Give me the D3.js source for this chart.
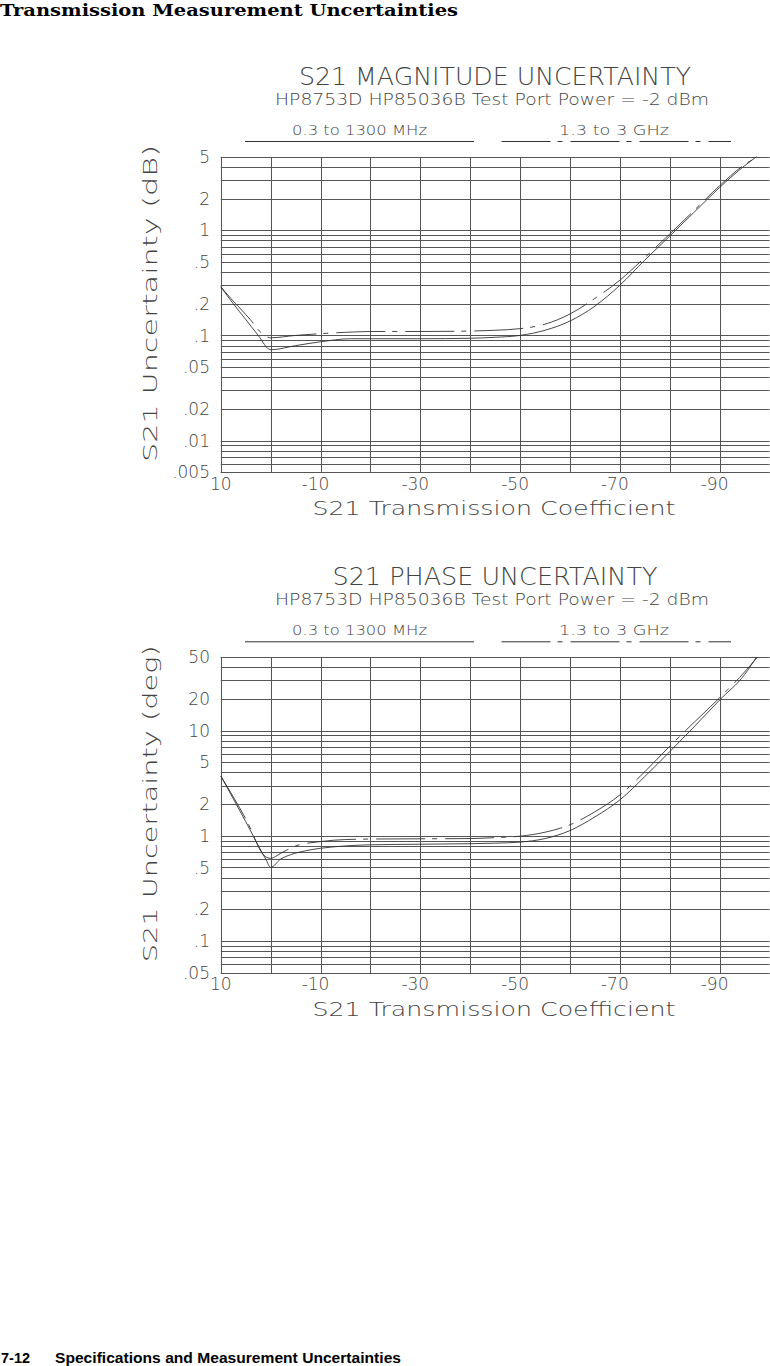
<!DOCTYPE html>
<html><head><meta charset="utf-8">
<script src="https://cdn.jsdelivr.net/npm/d3@7/dist/d3.min.js"></script>
<style>
html,body{margin:0;padding:0;background:#fff;}
svg{display:block;}
.plot{font-family:"DejaVu Sans",sans-serif;font-weight:200;fill:#444;}
</style></head>
<body>
<script>
// ---------- data ----------
const xGridValues = [10, 0, -10, -20, -30, -40, -50, -60, -70, -80, -90, -100];
const xTickValues = [10, -10, -30, -50, -70, -90];
const xTickLabels = ["10", "-10", "-30", "-50", "-70", "-90"];

const magTickValues = [5, 2, 1, 0.5, 0.2, 0.1, 0.05, 0.02, 0.01, 0.005];
const magTickLabels = ["5", "2", "1", ".5", ".2", ".1", ".05", ".02", ".01", ".005"];
const phaseTickValues = [50, 20, 10, 5, 2, 1, 0.5, 0.2, 0.1, 0.05];
const phaseTickLabels = ["50", "20", "10", "5", "2", "1", ".5", ".2", ".1", ".05"];

const legendLabels = ["0.3 to 1300 MHz", "1.3 to 3 GHz"];

// S21 magnitude uncertainty (dB) vs transmission coefficient (dB)
const magLow = [[10,0.29],[7.5,0.2],[5,0.142],[2.5,0.1],[0,0.073],[-5,0.080],[-10,0.087],[-16,0.093],
  [-20,0.093],[-30,0.093],[-40,0.094],[-45,0.096],[-50,0.100],[-55,0.112],[-60,0.137],[-65,0.19],
  [-70,0.30],[-75,0.52],[-80,0.88],[-85,1.5],[-90,2.55],[-95,4.1],[-97.4,5.0]];
const magHigh = [[10,0.29],[8,0.225],[6,0.178],[4,0.14],[2,0.107],[0,0.095],[-5,0.1],[-10,0.104],
  [-15,0.107],[-20,0.109],[-30,0.109],[-40,0.110],[-45,0.112],[-50,0.116],[-55,0.128],[-60,0.16],
  [-65,0.225],[-70,0.335],[-75,0.55],[-80,0.92],[-85,1.56],[-90,2.65],[-95,4.2],[-97.7,5.0]];

// S21 phase uncertainty (deg)
const phaseLow = [[10,3.7],[5,1.36],[1,0.6],[0,0.5],[-2,0.6],[-4,0.66],[-7,0.72],[-10,0.76],
  [-15,0.8],[-20,0.82],[-30,0.83],[-40,0.84],[-45,0.85],[-50,0.87],[-55,0.94],[-60,1.12],
  [-65,1.51],[-70,2.19],[-75,3.65],[-80,6.3],[-85,11],[-90,19.5],[-95,34],[-97.4,50]];
const phaseHigh = [[10,3.7],[5,1.45],[1,0.63],[0,0.61],[-2,0.68],[-5,0.8],[-10,0.88],[-15,0.92],
  [-20,0.93],[-30,0.935],[-40,0.94],[-45,0.96],[-50,0.99],[-55,1.08],[-60,1.27],[-65,1.69],
  [-70,2.44],[-75,4.06],[-80,7.1],[-85,12.1],[-90,20.5],[-95,36],[-97.6,50]];

const charts = [
  {title:"S21 MAGNITUDE UNCERTAINTY", titleLen:392, yTitle:"S21 Uncertainty (dB)",
   domain:[0.005,5], ticks:magTickValues, tickLabels:magTickLabels, low:magLow, high:magHigh, offset:0},
  {title:"S21 PHASE UNCERTAINTY", titleLen:325, yTitle:"S21 Uncertainty (deg)",
   domain:[0.05,50], ticks:phaseTickValues, tickLabels:phaseTickLabels, low:phaseLow, high:phaseHigh, offset:500.3}
];

// ---------- drawing ----------
const W = 770, H = 1366;
const svg = d3.select("body").append("svg").attr("width", W).attr("height", H);

svg.append("text").attr("x", 0).attr("y", 16)
  .attr("font-family", "'DejaVu Serif', serif").attr("font-weight", "bold")
  .attr("font-size", 17.5).attr("fill", "#000")
  .attr("textLength", 458).attr("lengthAdjust", "spacingAndGlyphs")
  .text("Transmission Measurement Uncertainties");

svg.append("text").attr("x", 1).attr("y", 1363)
  .attr("font-family", "'Liberation Sans Narrow', 'Liberation Sans', sans-serif").attr("font-weight", "bold")
  .attr("font-size", 15).attr("fill", "#000")
  .attr("textLength", 29).attr("lengthAdjust", "spacingAndGlyphs").text("7-12");
svg.append("text").attr("x", 55).attr("y", 1363)
  .attr("font-family", "'Liberation Sans Narrow', 'Liberation Sans', sans-serif").attr("font-weight", "bold")
  .attr("font-size", 15).attr("fill", "#000")
  .attr("textLength", 346).attr("lengthAdjust", "spacingAndGlyphs")
  .text("Specifications and Measurement Uncertainties");

const left = 220.8, right = 769.5;
const x = d3.scaleLinear().domain([10, -100]).range([left, right]);

charts.forEach(c => {
  const top = 156.7 + c.offset, bottom = 472.3 + c.offset;
  const g = svg.append("g").attr("class", "plot");
  const y = d3.scaleLog().domain(c.domain).range([bottom, top]);

  // titles
  g.append("text").attr("x", 495).attr("y", 84.5 + c.offset).attr("text-anchor", "middle")
    .attr("font-size", 24).attr("textLength", c.titleLen).attr("lengthAdjust", "spacingAndGlyphs")
    .text(c.title);
  g.append("text").attr("x", 492).attr("y", 105 + c.offset).attr("text-anchor", "middle")
    .attr("font-size", 15).attr("textLength", 434).attr("lengthAdjust", "spacingAndGlyphs")
    .text("HP8753D HP85036B Test Port Power = -2 dBm");

  // legend
  g.append("text").attr("x", 292).attr("y", 135 + c.offset)
    .attr("font-size", 14.5).attr("textLength", 135).attr("lengthAdjust", "spacingAndGlyphs")
    .text(legendLabels[0]);
  g.append("text").attr("x", 559).attr("y", 135 + c.offset)
    .attr("font-size", 14.5).attr("textLength", 110).attr("lengthAdjust", "spacingAndGlyphs")
    .text(legendLabels[1]);
  g.append("line").attr("x1", 245).attr("x2", 474).attr("y1", 141.5 + c.offset).attr("y2", 141.5 + c.offset)
    .attr("stroke", "#333").attr("stroke-width", 1);
  g.append("line").attr("x1", 501.5).attr("x2", 731).attr("y1", 141.5 + c.offset).attr("y2", 141.5 + c.offset)
    .attr("stroke", "#333").attr("stroke-width", 1).attr("stroke-dasharray", "49 7 5 8");

  // grid: horizontal log lines
  const [d0, d1] = c.domain;
  const hLines = [];
  for (let e = Math.floor(Math.log10(d0)); e <= Math.ceil(Math.log10(d1)); e++) {
    for (let m = 1; m <= 9; m++) {
      const v = m * Math.pow(10, e);
      if (v >= d0 * 0.999 && v <= d1 * 1.001) hLines.push(v);
    }
  }
  hLines.push(d0, d1);
  g.append("g").selectAll("line").data(hLines).join("line")
    .attr("x1", left).attr("x2", right)
    .attr("y1", d => Math.round(y(d)) + 0.5).attr("y2", d => Math.round(y(d)) + 0.5)
    .attr("stroke", "#555").attr("stroke-width", 1);
  g.append("g").selectAll("line").data(xGridValues).join("line")
    .attr("x1", d => Math.round(x(d)) + 0.5).attr("x2", d => Math.round(x(d)) + 0.5)
    .attr("y1", Math.round(top) + 0.5).attr("y2", Math.round(bottom) + 0.5)
    .attr("stroke", "#555").attr("stroke-width", 1);

  // y tick labels
  g.append("g").selectAll("text").data(c.ticks).join("text")
    .attr("x", 210).attr("y", d => y(d)).attr("dy", "0.36em").attr("text-anchor", "end")
    .attr("font-size", 17)
    .text((d, i) => c.tickLabels[i]);

  // x tick labels
  g.append("g").selectAll("text").data(xTickValues).join("text")
    .attr("x", (d, i) => x(d) + (xTickLabels[i].startsWith("-") ? -5 : 0))
    .attr("y", bottom + 17.5).attr("text-anchor", "middle")
    .attr("font-size", 17)
    .text((d, i) => xTickLabels[i]);

  // axis titles
  g.append("text").attr("x", 494).attr("y", bottom + 43).attr("text-anchor", "middle")
    .attr("font-size", 20).attr("textLength", 363).attr("lengthAdjust", "spacingAndGlyphs")
    .text("S21 Transmission Coefficient");
  g.append("text").attr("transform", `translate(157,${(top + bottom) / 2 - 11}) rotate(-90)`)
    .attr("text-anchor", "middle").attr("font-size", 20)
    .attr("textLength", 317).attr("lengthAdjust", "spacingAndGlyphs")
    .text(c.yTitle);

  // curves
  const line = d3.line().x(d => x(d[0])).y(d => y(d[1])).curve(d3.curveMonotoneX);
  g.append("path").attr("d", line(c.low)).attr("fill", "none")
    .attr("stroke", "#333").attr("stroke-width", 0.9);
  g.append("path").attr("d", line(c.high)).attr("fill", "none")
    .attr("stroke", "#333").attr("stroke-width", 0.9).attr("stroke-dasharray", "49 7 5 8");
});
</script>
</body></html>
